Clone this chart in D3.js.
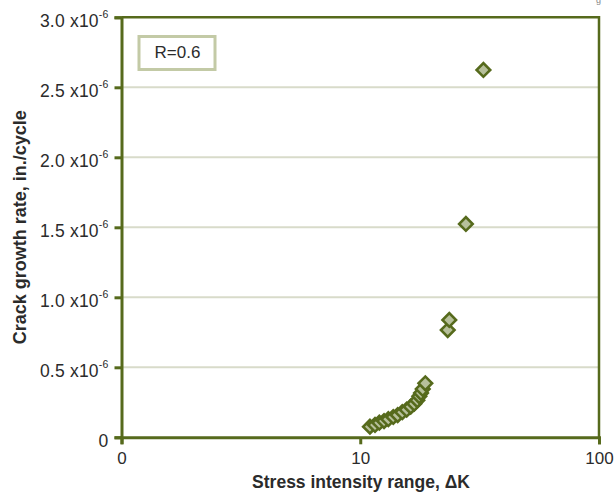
<!DOCTYPE html>
<html>
<head>
<meta charset="utf-8">
<script src="https://cdn.jsdelivr.net/npm/d3@7"></script>
<style>
  html, body { margin: 0; padding: 0; background: #fff; }
  svg { display: block; font-family: "Liberation Sans", Arial, sans-serif; }
</style>
</head>
<body>
<svg id="chart" width="616" height="492"></svg>
<script>
// Stress intensity range (ΔK) and crack growth rate (in./cycle, ×1e-6)
const deltaK = [10.98, 11.53, 12.02, 12.58, 13.11, 13.75, 14.35, 15.0, 15.65, 16.27,
                16.84, 17.34, 17.68, 17.97, 18.27, 18.73, 23.25, 23.6, 27.7, 32.8];
const growthRate = [0.076, 0.088, 0.104, 0.116, 0.129, 0.145, 0.159, 0.179, 0.197, 0.219,
                    0.240, 0.264, 0.293, 0.316, 0.345, 0.386, 0.766, 0.838, 1.524, 2.624];
const xTickValues = [1, 10, 100];
const xTickLabels = ["0", "10", "100"];
const yTickValues = [0, 0.5, 1.0, 1.5, 2.0, 2.5, 3.0];
const yTickLabels = ["0", "0.5", "1.0", "1.5", "2.0", "2.5", "3.0"];
const legendText = "R=0.6";

const fontFamily = '"Liberation Sans", Arial, sans-serif';
const olive = "#566a1c";
const fillLight = "#b7c09b";
const gridColor = "#d8dbca";
const textColor = "#2b2b2b";

const svg = d3.select("#chart");
const m = { left: 121.5, right: 599, top: 17.3, bottom: 437.3 };

const x = d3.scaleLog().domain([1, 100]).range([m.left, m.right]);
const y = d3.scaleLinear().domain([0, 3.0]).range([m.bottom, m.top]);

// horizontal grid lines
svg.append("g")
  .selectAll("line")
  .data(yTickValues.filter(v => v > 0 && v < 3.0))
  .join("line")
  .attr("x1", m.left).attr("x2", m.right)
  .attr("y1", d => y(d)).attr("y2", d => y(d))
  .attr("stroke", gridColor).attr("stroke-width", 2);

// frame top and right
svg.append("path")
  .attr("d", `M${m.left},${m.top}H${m.right}V${m.bottom}`)
  .attr("fill", "none").attr("stroke", olive).attr("stroke-width", 2.5);

// y axis
const yAxis = svg.append("g")
  .attr("transform", `translate(${m.left},0)`)
  .call(d3.axisLeft(y).tickValues(yTickValues).tickSize(7).tickPadding(6)
        .tickFormat((d, i) => yTickLabels[i]))
  .attr("font-family", fontFamily);
yAxis.select(".domain").attr("stroke", olive).attr("stroke-width", 3);
yAxis.selectAll(".tick line").attr("stroke", olive).attr("stroke-width", 3);
yAxis.selectAll(".tick text")
  .attr("fill", textColor)
  .attr("font-size", 17.5)
  .attr("letter-spacing", 0.2)
  .attr("dy", "0.5em")
  .each(function (d, i) {
    const t = d3.select(this);
    if (d === 0) return;
    t.text(null);
    t.append("tspan").text(yTickLabels[i] + " x10");
    t.append("tspan").attr("font-size", 10.5).attr("dy", "-0.8em").text("-6");
  });

// x axis
const xAxis = svg.append("g")
  .attr("transform", `translate(0,${m.bottom})`)
  .call(d3.axisBottom(x).tickValues(xTickValues).tickSize(7).tickPadding(8)
        .tickFormat((d, i) => xTickLabels[i]))
  .attr("font-family", fontFamily);
xAxis.select(".domain").attr("stroke", olive).attr("stroke-width", 3);
xAxis.selectAll(".tick line").attr("stroke", olive).attr("stroke-width", 3);
xAxis.selectAll(".tick text").attr("fill", textColor).attr("font-size", 17);

// axis titles
svg.append("text")
  .attr("x", 361).attr("y", 487.5)
  .attr("text-anchor", "middle")
  .attr("font-weight", "bold").attr("font-size", 17.5)
  .attr("fill", textColor)
  .text("Stress intensity range, ΔK");

svg.append("text")
  .attr("transform", `translate(25.5,${(m.top + m.bottom) / 2}) rotate(-90)`)
  .attr("text-anchor", "middle")
  .attr("font-weight", "bold").attr("font-size", 18)
  .attr("fill", textColor)
  .text("Crack growth rate, in./cycle");

// legend box
svg.append("rect")
  .attr("x", 139).attr("y", 36.5).attr("width", 76).attr("height", 33)
  .attr("fill", "#fff").attr("stroke", "#c3caa6").attr("stroke-width", 3);
svg.append("text")
  .attr("x", 177.5).attr("y", 57.5)
  .attr("text-anchor", "middle")
  .attr("font-size", 17).attr("fill", textColor)
  .text(legendText);

// data points (diamonds)
const pts = deltaK.map((k, i) => ({ k, r: growthRate[i] }));
svg.append("g")
  .selectAll("path")
  .data(pts)
  .join("path")
  .attr("d", d3.symbol().type(d3.symbolSquare).size(92))
  .attr("transform", d => `translate(${x(d.k)},${y(d.r)}) rotate(45)`)
  .attr("fill", fillLight)
  .attr("stroke", olive)
  .attr("stroke-width", 2.6);

// fragment of a caption above the frame
svg.append("text")
  .attr("x", 596).attr("y", 3)
  .attr("font-size", 9).attr("fill", "#888")
  .text("g");
</script>
</body>
</html>
